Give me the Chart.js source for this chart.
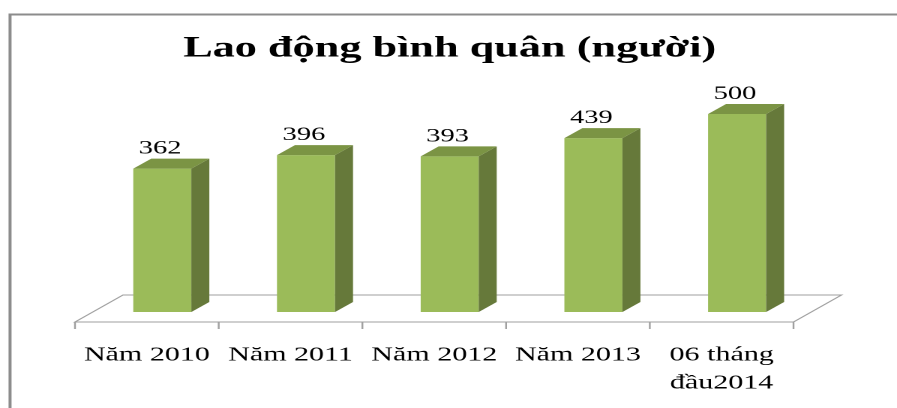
<!DOCTYPE html>
<html>
<head>
<meta charset="utf-8">
<script src="https://cdn.jsdelivr.net/npm/chart.js@4/dist/chart.umd.min.js"></script>
<style>
    body { margin: 0; background: #fff; overflow: hidden; }
    /* ảnh gốc bị kéo giãn theo chiều ngang ~1.5 lần */
    #laoDongChart { transform: scaleX(1.5); transform-origin: 0 0; display: block; }
</style>
</head>
<body>
<canvas id="laoDongChart" width="598" height="408"></canvas>
<script>
// Dữ liệu
const nhanNam = ['Năm 2010', 'Năm 2011', 'Năm 2012', 'Năm 2013', ['06 tháng', 'đầu2014']];
const soLaoDong = [362, 396, 393, 439, 500];
const tieuDe = 'Lao động bình quân (người)';

// Độ sâu 3D (đơn vị pixel của canvas trước khi kéo giãn)
const SAU_COT = { dx: 12, dy: -10 };
const SAN_TRUOC = { dx: -10.3, dy: 10 };
const SAN_SAU = { dx: 21.7, dy: -17 };

// Khung viền
const khungVien = {
    id: 'khungVien',
    beforeDraw(chart) {
        const ctx = chart.ctx;
        ctx.save();
        ctx.fillStyle = '#fff';
        ctx.fillRect(0, 0, chart.width, chart.height);
        ctx.strokeStyle = '#8c8c8c';
        ctx.lineWidth = 2;
        ctx.beginPath();
        ctx.moveTo(6.7, chart.height + 5);
        ctx.lineTo(6.7, 14.5);
        ctx.lineTo(chart.width + 5, 14.5);
        ctx.stroke();
        ctx.restore();
    }
};

// Sàn 3D và vạch chia
const sanBieuDo = {
    id: 'sanBieuDo',
    beforeDatasetsDraw(chart) {
        const ctx = chart.ctx;
        const y0 = chart.scales.y.getPixelForValue(0);
        const trai = chart.chartArea.left;
        const phai = chart.chartArea.right;
        ctx.save();
        ctx.strokeStyle = '#a0a0a0';
        ctx.lineWidth = 1;
        ctx.beginPath();
        ctx.moveTo(trai + SAN_TRUOC.dx, y0 + SAN_TRUOC.dy);
        ctx.lineTo(phai + SAN_TRUOC.dx, y0 + SAN_TRUOC.dy);
        ctx.lineTo(phai + SAN_SAU.dx, y0 + SAN_SAU.dy);
        ctx.lineTo(trai + SAN_SAU.dx, y0 + SAN_SAU.dy);
        ctx.closePath();
        ctx.stroke();
        // vạch chia giữa các nhóm
        const buoc = (phai - trai) / nhanNam.length;
        ctx.lineWidth = 1.2;
        for (let i = 0; i <= nhanNam.length; i++) {
            const x = trai + i * buoc + SAN_TRUOC.dx;
            ctx.beginPath();
            ctx.moveTo(x, y0 + SAN_TRUOC.dy);
            ctx.lineTo(x, y0 + SAN_TRUOC.dy + 7);
            ctx.stroke();
        }
        ctx.restore();
    }
};

// Mặt bên, mặt trên của cột và nhãn giá trị
const cot3D = {
    id: 'cot3D',
    afterDatasetsDraw(chart) {
        const ctx = chart.ctx;
        const meta = chart.getDatasetMeta(0);
        ctx.save();
        meta.data.forEach((bar, i) => {
            const l = bar.x - bar.width / 2;
            const r = bar.x + bar.width / 2;
            const t = bar.y;
            const b = bar.base;
            // mặt bên
            ctx.fillStyle = '#66793a';
            ctx.beginPath();
            ctx.moveTo(r, t);
            ctx.lineTo(r + SAU_COT.dx, t + SAU_COT.dy);
            ctx.lineTo(r + SAU_COT.dx, b + SAU_COT.dy);
            ctx.lineTo(r, b);
            ctx.closePath();
            ctx.fill();
            // mặt trên
            ctx.fillStyle = '#7b9444';
            ctx.beginPath();
            ctx.moveTo(l, t);
            ctx.lineTo(l + SAU_COT.dx, t + SAU_COT.dy);
            ctx.lineTo(r + SAU_COT.dx, t + SAU_COT.dy);
            ctx.lineTo(r, t);
            ctx.closePath();
            ctx.fill();
            // nhãn
            ctx.fillStyle = '#000';
            ctx.font = '19px "Liberation Serif"';
            ctx.textAlign = 'center';
            ctx.textBaseline = 'alphabetic';
            ctx.fillText(String(soLaoDong[i]), bar.x - 1.4, t - 15);
        });
        ctx.restore();
    }
};

new Chart(document.getElementById('laoDongChart'), {
    type: 'bar',
    data: {
        labels: nhanNam,
        datasets: [{
            data: soLaoDong,
            backgroundColor: '#9bbb59',
            borderWidth: 0,
            barPercentage: 0.404,
            categoryPercentage: 1
        }]
    },
    options: {
        responsive: false,
        animation: false,
        devicePixelRatio: 2,
        layout: {
            padding: { left: 60.3, right: 58.7, top: 0, bottom: 0 }
        },
        plugins: {
            legend: { display: false },
            tooltip: { enabled: false },
            title: {
                display: true,
                text: tieuDe,
                color: '#000',
                font: { family: '"Liberation Serif"', size: 29.5, weight: 'bold', lineHeight: 1.2 },
                padding: { top: 31, bottom: 8 }
            }
        },
        scales: {
            x: {
                grid: { display: false },
                border: { display: false },
                ticks: {
                    color: '#000',
                    font: { family: '"Liberation Serif"', size: 20, lineHeight: 1.4 },
                    padding: 21,
                    labelOffset: -10.3,
                    maxRotation: 0,
                    autoSkip: false
                },
                afterFit(scale) {
                    scale.height = 96;
                }
            },
            y: {
                display: false,
                min: 0,
                max: 600
            }
        }
    },
    plugins: [khungVien, sanBieuDo, cot3D]
});
</script>
</body>
</html>
